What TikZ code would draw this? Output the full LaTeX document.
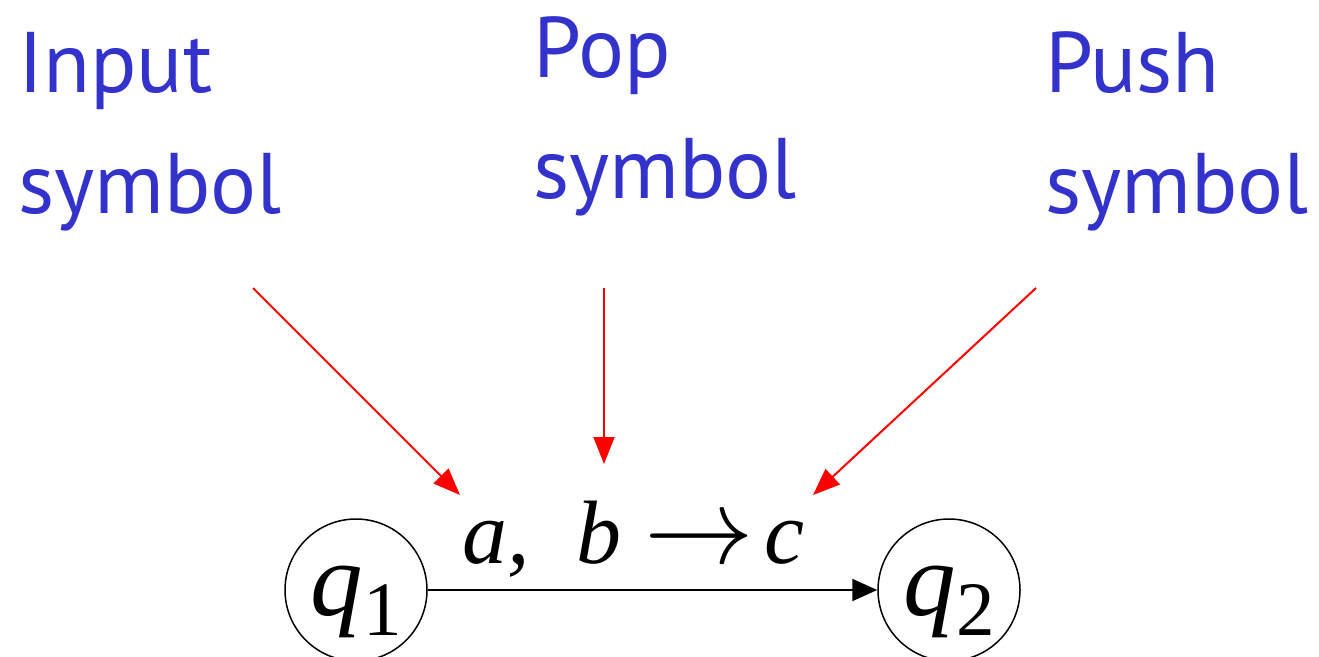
\documentclass[tikz,border=0pt]{standalone}
\usepackage{fontspec}
\setmainfont{Liberation Serif}
\newfontfamily\notefont{PT Sans}
\usetikzlibrary{arrows.meta}
\definecolor{noteblue}{RGB}{51,51,204}

\tikzset{
  note/.style={text=noteblue, font=\notefont\fontsize{86}{121}\selectfont, align=left, anchor=base west, inner sep=0pt},
  state/.style={draw, circle, line width=1.5pt, minimum size=142pt, inner sep=0pt, text height=55pt, text depth=5pt, font=\fontsize{105}{105}\selectfont},
  pointer/.style={->, red, line width=2pt, >={Triangle[length=27pt, width=21pt]}},
  move/.style={->, line width=2pt, >={Triangle[length=25pt, width=22pt]}}
}
\newcommand{\statelabel}[1]{\itshape q\raisebox{-20pt}{\upshape\fontsize{77}{77}\selectfont #1}}

\begin{document}
\begin{tikzpicture}[x=1pt, y=-1pt]
  \useasboundingbox (0,0) rectangle (1319,656);

  % explanatory labels (anchored at the baseline of the second line)
  \node[note] (input) at (18,213) {Input\\symbol};
  \node[note] (pop) at (533,198) {Pop\\symbol};
  \node[note] (push) at (1045,213) {Push\\symbol};

  % states and transition
  \node[state] (q1) at (356,590) {\statelabel{1}};
  \node[state] (q2) at (949,590) {\statelabel{2}};
  \draw[move] (q1) -- (q2);
  \node[font=\fontsize{90}{90}\selectfont, anchor=base west, inner sep=0pt] (trans) at (462,563)
    {\itshape a,\hspace{47pt}b\hspace{23pt}\scalebox{4.4}{$\rightarrow$}\hspace{10pt}c};

  % pointers to the parts of the label
  \coordinate (input-from) at (253,288);
  \coordinate (input-to) at (460,495);
  \coordinate (pop-from) at (604,288);
  \coordinate (pop-to) at (604,464);
  \coordinate (push-from) at (1036,288);
  \coordinate (push-to) at (813,495);
  \draw[pointer] (input-from) -- (input-to);
  \draw[pointer] (pop-from) -- (pop-to);
  \draw[pointer] (push-from) -- (push-to);
\end{tikzpicture}
\end{document}
